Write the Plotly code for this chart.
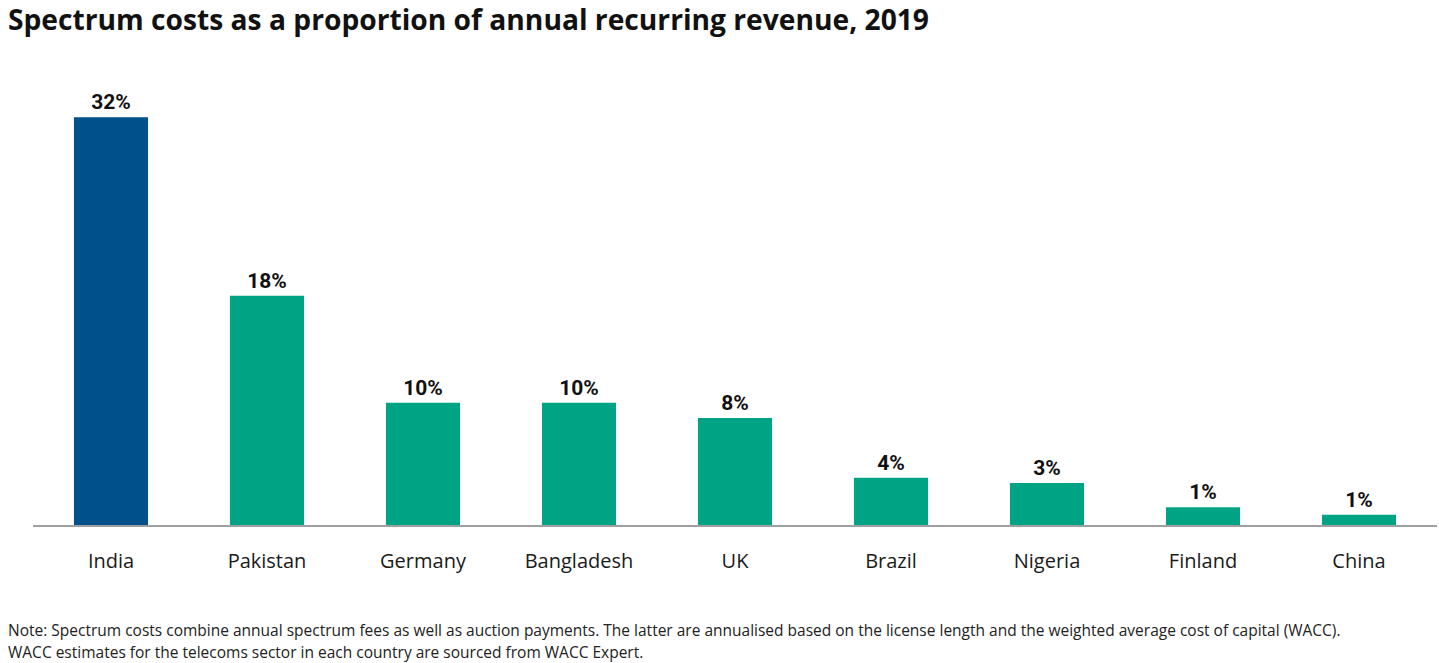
import plotly.graph_objects as go

countries = ["India", "Pakistan", "Germany", "Bangladesh", "UK", "Brazil", "Nigeria", "Finland", "China"]
values = [32.0, 18.0, 9.6, 9.6, 8.4, 3.7, 3.3, 1.4, 0.8]
labels = ["32%", "18%", "10%", "10%", "8%", "4%", "3%", "1%", "1%"]
colors = ["#00508C"] + ["#00A383"] * 8

title = "Spectrum costs as a proportion of annual recurring revenue, 2019"
note_lines = [
    "Note: Spectrum costs combine annual spectrum fees as well as auction payments. The latter are annualised based on the license length and the weighted average cost of capital (WACC).",
    "WACC estimates for the telecoms sector in each country are sourced from WACC Expert.",
]

W, H = 1439, 663
ML, MR, MT, MB = 33, 2, 79, 138
PH = H - MT - MB

fig = go.Figure(go.Bar(
    x=countries, y=values, marker_color=colors, marker_line_width=0,
    text=labels, textposition="outside", cliponaxis=False,
    textfont=dict(family="Liberation Sans Narrow, Roboto, sans-serif", size=21, color="#111111", weight="bold"),
    hoverinfo="skip",
))

fig.update_layout(
    width=W, height=H,
    paper_bgcolor="white", plot_bgcolor="white",
    margin=dict(l=ML, r=MR, t=MT, b=MB),
    bargap=0.525,
    showlegend=False,
    title=dict(text="<b>" + title + "</b>", x=8 / W, xanchor="left", y=1 - 20 / H, yanchor="middle",
               font=dict(family="Open Sans, sans-serif", size=28.2, color="#111111")),
    xaxis=dict(showline=True, linecolor="#A0A0A0", linewidth=1.5, ticks="", ticklabelstandoff=17,
               tickfont=dict(family="Open Sans, Roboto, sans-serif", size=20, color="#1a1a1a"),
               showgrid=False, zeroline=False),
    yaxis=dict(range=[0, 35], visible=False, showgrid=False, zeroline=False),
)

for i, line in enumerate(note_lines):
    fig.add_annotation(text=line, xref="paper", yref="paper", x=-(ML - 6) / (W - ML - MR), xanchor="left",
                       y=(H - (630 + i * 22) - MB) / PH, yanchor="middle", showarrow=False,
                       font=dict(family="Open Sans, sans-serif", size=15.5, color="#222222"))

fig.write_html("out.html", post_script="document.body.style.margin='0px';",
               config={"displayModeBar": False})
